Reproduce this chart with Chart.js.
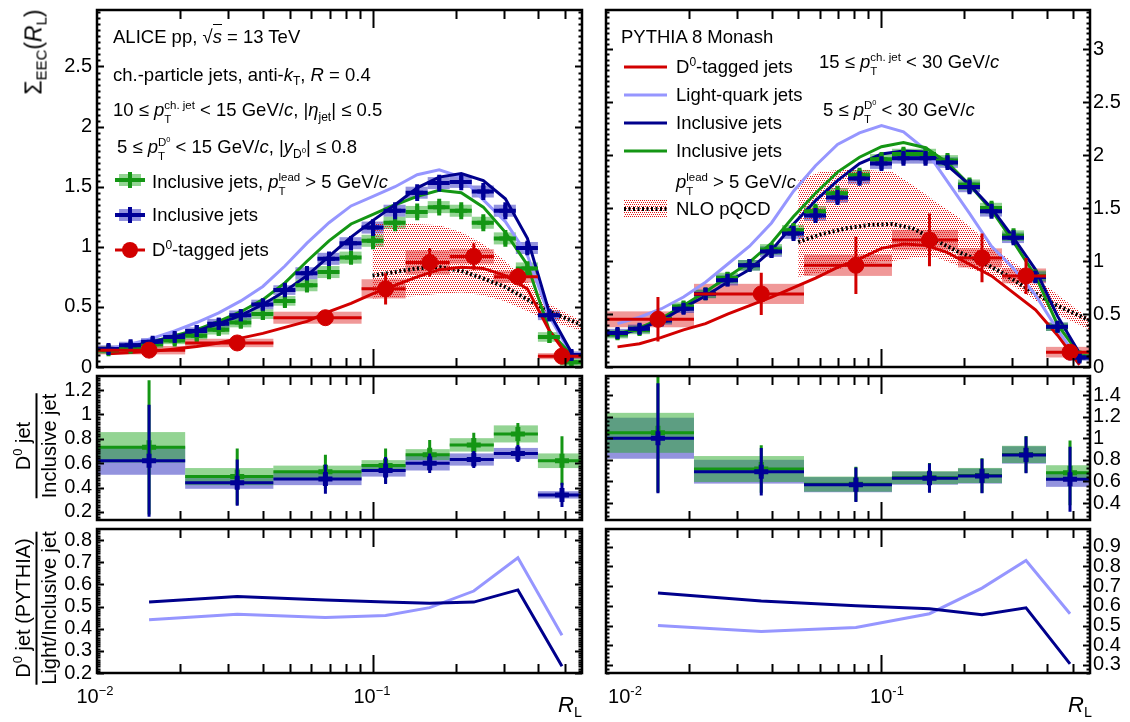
<!DOCTYPE html>
<html>
<head>
<meta charset="utf-8">
<script src="https://cdn.jsdelivr.net/npm/chart.js@4.4.1/dist/chart.umd.min.js"></script>
<style>
  body { margin: 0; background: #fff; }
  #wrap { position: relative; width: 1130px; height: 722px; overflow: hidden; background: #fff;
          font-family: "Liberation Sans", Arial, Helvetica, sans-serif; color: #000; }
  #wrap canvas { position: absolute; left: 0; top: 0; }
  .t { position: absolute; white-space: nowrap; font-size: 18.5px; line-height: 1; }
  .t sub, .rot sub, .frac sub { font-size: 0.65em; vertical-align: -0.35em; line-height: 0; }
  .t sup, .rot sup, .frac sup, .xl sup { font-size: 0.65em; vertical-align: 0.6em; line-height: 0; }
  .ss { display: inline-flex; flex-direction: column; font-size: 0.62em; line-height: 1.2; vertical-align: 0.65em; }
  .ov { border-top: 1.5px solid #000; padding-top: 1px; }
  .rot { position: absolute; white-space: nowrap; transform: translate(-50%, -50%) rotate(-90deg); }
  .frac { display: flex; flex-direction: column; align-items: center; font-size: 20px; line-height: 1.05; }
  .frac .bar { align-self: stretch; border-top: 2px solid #000; margin: 2px 0 1px; }
  .xl { position: absolute; top: 686px; font-size: 20px; line-height: 1; transform: translateX(-50%); white-space: nowrap; }
</style>
</head>
<body>
<div id="wrap">
  <canvas id="cLT" width="1130" height="722"></canvas>
  <canvas id="cLM" width="1130" height="722"></canvas>
  <canvas id="cLB" width="1130" height="722"></canvas>
  <canvas id="cRT" width="1130" height="722"></canvas>
  <canvas id="cRM" width="1130" height="722"></canvas>
  <canvas id="cRB" width="1130" height="722"></canvas>

  <!-- left top annotations -->
  <div class="t" style="left:113px;top:28px">ALICE pp, √<span class="ov"><i>s</i></span> = 13 TeV</div>
  <div class="t" style="left:113px;top:66px">ch.-particle jets, anti-<i>k</i><sub>T</sub>, <i>R</i> = 0.4</div>
  <div class="t" style="left:113px;top:99px">10 ≤ <i>p</i><span class="ss"><span>ch. jet</span><span>T</span></span> &lt; 15 GeV/<i>c</i>, |<i>η</i><sub>jet</sub>| ≤ 0.5</div>
  <div class="t" style="left:117px;top:136px">5 ≤ <i>p</i><span class="ss"><span>D<sup>0</sup></span><span>T</span></span> &lt; 15 GeV/<i>c</i>, |<i>y</i><sub>D<sup>0</sup></sub>| ≤ 0.8</div>
  <div class="t" style="left:152px;top:171px">Inclusive jets, <i>p</i><span class="ss"><span>lead</span><span>T</span></span> &gt; 5 GeV/<i>c</i></div>
  <div class="t" style="left:152px;top:206px">Inclusive jets</div>
  <div class="t" style="left:152px;top:241px">D<sup>0</sup>-tagged jets</div>

  <!-- right top annotations -->
  <div class="t" style="left:621px;top:28px">PYTHIA 8 Monash</div>
  <div class="t" style="left:676px;top:58px">D<sup>0</sup>-tagged jets</div>
  <div class="t" style="left:676px;top:86px">Light-quark jets</div>
  <div class="t" style="left:676px;top:114px">Inclusive jets</div>
  <div class="t" style="left:676px;top:142px">Inclusive jets</div>
  <div class="t" style="left:676px;top:171px"><i>p</i><span class="ss"><span>lead</span><span>T</span></span> &gt; 5 GeV/<i>c</i></div>
  <div class="t" style="left:676px;top:200px">NLO pQCD</div>
  <div class="t" style="left:819px;top:51px">15 ≤ <i>p</i><span class="ss"><span>ch. jet</span><span>T</span></span> &lt; 30 GeV/<i>c</i></div>
  <div class="t" style="left:823px;top:99px">5 ≤ <i>p</i><span class="ss"><span>D<sup>0</sup></span><span>T</span></span> &lt; 30 GeV/<i>c</i></div>

  <!-- axis titles -->
  <div class="rot" style="left:34px;top:52px;font-size:23px">Σ<sub>EEC</sub>(<i>R</i><sub>L</sub>)</div>
  <div class="rot frac" style="left:36px;top:446px"><div>D<sup>0</sup> jet</div><div class="bar"></div><div>Inclusive jet</div></div>
  <div class="rot frac" style="left:36px;top:608px"><div>D<sup>0</sup> jet (PYTHIA)</div><div class="bar"></div><div>Light/Inclusive jet</div></div>

  <div class="xl" style="left:95px">10<sup>−2</sup></div>
  <div class="xl" style="left:372px">10<sup>−1</sup></div>
  <div class="xl" style="left:625px">10<sup>-2</sup></div>
  <div class="xl" style="left:887px">10<sup>-1</sup></div>
  <div class="t" style="left:558px;top:694px;font-size:22px"><i>R</i><sub>L</sub></div>
  <div class="t" style="left:1068px;top:694px;font-size:22px"><i>R</i><sub>L</sub></div>
</div>

<script>
// ---- R_L binning ----
const xMin = 0.01, xMax = 0.5754;
const fineEdges = [0.01, 0.01202, 0.01445, 0.01738, 0.02089, 0.02512, 0.0302, 0.03631, 0.04365, 0.05248, 0.0631,
  0.07586, 0.0912, 0.1096, 0.1318, 0.1585, 0.1905, 0.2291, 0.2754, 0.3311, 0.3981, 0.4786, 0.5754];
const fineCenters = [0.01101, 0.01324, 0.01592, 0.01914, 0.02301, 0.02766, 0.03326, 0.03998, 0.04807, 0.05779, 0.06948,
  0.08353, 0.1004, 0.1207, 0.1452, 0.1745, 0.2098, 0.2523, 0.3033, 0.3646, 0.4384, 0.527];
const d0EdgesL = [0.01, 0.02089, 0.04365, 0.0912, 0.1318, 0.1905, 0.2754, 0.3981, 0.5754];
const d0CentersL = [0.01545, 0.03227, 0.06743, 0.1115, 0.16115, 0.23295, 0.33675, 0.48675];
const d0EdgesR = [0.01, 0.02089, 0.05248, 0.1096, 0.1905, 0.2754, 0.3981, 0.5754];
const d0CentersR = [0.01545, 0.03669, 0.08104, 0.15005, 0.23295, 0.33675, 0.48675];

// ---- left top: 10-15 GeV/c data ----
const inclL     = [0.15, 0.18, 0.21, 0.25, 0.30, 0.36, 0.43, 0.52, 0.64, 0.78, 0.90, 1.03, 1.16, 1.30, 1.45, 1.53, 1.54, 1.46, 1.30, 0.99, 0.43, 0.10];
const inclStatL = [0.04, 0.04, 0.04, 0.04, 0.05, 0.05, 0.05, 0.05, 0.06, 0.06, 0.06, 0.06, 0.07, 0.07, 0.07, 0.07, 0.07, 0.07, 0.07, 0.06, 0.05, 0.04];
const inclSysL  = [0.03, 0.03, 0.03, 0.03, 0.03, 0.04, 0.04, 0.04, 0.04, 0.05, 0.05, 0.05, 0.05, 0.05, 0.05, 0.05, 0.05, 0.05, 0.05, 0.05, 0.04, 0.03];
const leadL     = [0.14, 0.16, 0.19, 0.22, 0.26, 0.31, 0.37, 0.44, 0.55, 0.68, 0.79, 0.91, 1.05, 1.20, 1.29, 1.33, 1.30, 1.20, 1.07, 0.82, 0.25, 0.04];
const leadStatL = [0.04, 0.04, 0.04, 0.04, 0.05, 0.05, 0.05, 0.05, 0.06, 0.06, 0.06, 0.06, 0.07, 0.07, 0.07, 0.07, 0.07, 0.07, 0.07, 0.06, 0.05, 0.04];
const leadSysL  = [0.03, 0.03, 0.03, 0.03, 0.03, 0.04, 0.04, 0.04, 0.04, 0.05, 0.05, 0.05, 0.05, 0.05, 0.05, 0.05, 0.05, 0.05, 0.05, 0.05, 0.04, 0.03];
const d0L       = [0.14, 0.20, 0.41, 0.65, 0.87, 0.92, 0.75, 0.09];
const d0StatL   = [0.05, 0.05, 0.06, 0.13, 0.12, 0.11, 0.07, 0.03];
const d0SysL    = [0.035, 0.035, 0.05, 0.08, 0.10, 0.06, 0.05, 0.025];
const pyInclL   = [0.14, 0.17, 0.21, 0.25, 0.30, 0.36, 0.43, 0.52, 0.63, 0.76, 0.92, 1.08, 1.22, 1.35, 1.49, 1.58, 1.61, 1.55, 1.40, 1.07, 0.45, 0.12];
const pyLeadL   = [0.14, 0.17, 0.21, 0.26, 0.31, 0.38, 0.46, 0.56, 0.70, 0.88, 1.05, 1.19, 1.27, 1.35, 1.42, 1.47, 1.45, 1.33, 1.12, 0.85, 0.30, 0.10];
const pyLightL  = [0.15, 0.19, 0.24, 0.30, 0.37, 0.45, 0.55, 0.67, 0.84, 1.03, 1.20, 1.34, 1.42, 1.50, 1.60, 1.64, 1.58, 1.39, 1.21, 0.93, 0.42, 0.10];
const pyD0L     = [0.11, 0.12, 0.13, 0.15, 0.17, 0.20, 0.24, 0.28, 0.33, 0.38, 0.46, 0.53, 0.61, 0.68, 0.75, 0.81, 0.83, 0.82, 0.76, 0.65, 0.30, 0.05];
const nloXL     = [0.1, 0.12, 0.145, 0.175, 0.21, 0.25, 0.3, 0.36, 0.44, 0.5754];
const nloHiL    = [1.20, 1.20, 1.19, 1.18, 1.12, 1.03, 0.89, 0.72, 0.52, 0.38];
const nloLoL    = [0.57, 0.58, 0.59, 0.61, 0.62, 0.60, 0.55, 0.47, 0.38, 0.30];
const nloMidL   = [0.76, 0.79, 0.82, 0.83, 0.80, 0.74, 0.67, 0.57, 0.46, 0.35];

// ---- right top: 15-30 GeV/c data ----
const inclR     = [0.32, 0.36, 0.44, 0.55, 0.69, 0.82, 0.96, 1.09, 1.26, 1.43, 1.60, 1.78, 1.92, 1.97, 1.97, 1.93, 1.70, 1.47, 1.22, 0.85, 0.38, 0.09];
const inclStatR = [0.05, 0.05, 0.05, 0.05, 0.06, 0.06, 0.06, 0.06, 0.07, 0.07, 0.07, 0.07, 0.07, 0.07, 0.07, 0.07, 0.07, 0.07, 0.07, 0.06, 0.05, 0.04];
const inclSysR  = [0.04, 0.04, 0.04, 0.04, 0.04, 0.05, 0.05, 0.05, 0.05, 0.05, 0.05, 0.05, 0.05, 0.05, 0.05, 0.05, 0.05, 0.05, 0.05, 0.05, 0.04, 0.03];
const leadR     = [0.31, 0.35, 0.45, 0.57, 0.69, 0.84, 0.96, 1.11, 1.29, 1.47, 1.64, 1.81, 1.96, 2.01, 2.01, 1.95, 1.72, 1.50, 1.24, 0.86, 0.38, 0.10];
const leadStatR = [0.05, 0.05, 0.05, 0.05, 0.06, 0.06, 0.06, 0.06, 0.07, 0.07, 0.07, 0.07, 0.07, 0.07, 0.07, 0.07, 0.07, 0.07, 0.07, 0.06, 0.05, 0.04];
const leadSysR  = [0.04, 0.04, 0.04, 0.04, 0.04, 0.05, 0.05, 0.05, 0.05, 0.05, 0.05, 0.05, 0.05, 0.05, 0.05, 0.05, 0.05, 0.05, 0.05, 0.05, 0.04, 0.03];
const d0R       = [0.45, 0.69, 0.96, 1.20, 1.03, 0.86, 0.14];
const d0StatR   = [0.21, 0.20, 0.27, 0.25, 0.23, 0.17, 0.05];
const d0SysR    = [0.075, 0.095, 0.10, 0.095, 0.09, 0.07, 0.05];
const pyInclR   = [0.30, 0.36, 0.44, 0.56, 0.67, 0.80, 0.92, 1.10, 1.35, 1.57, 1.76, 1.92, 2.01, 2.04, 2.03, 1.90, 1.72, 1.50, 1.22, 0.92, 0.48, 0.13];
const pyLeadR   = [0.31, 0.37, 0.46, 0.58, 0.71, 0.85, 0.99, 1.17, 1.42, 1.64, 1.84, 1.98, 2.08, 2.12, 2.07, 1.93, 1.72, 1.48, 1.18, 0.86, 0.40, 0.12];
const pyLightR  = [0.41, 0.47, 0.55, 0.66, 0.80, 0.97, 1.14, 1.36, 1.66, 1.90, 2.10, 2.21, 2.28, 2.22, 2.05, 1.75, 1.45, 1.14, 0.93, 0.68, 0.35, 0.06];
const pyD0R     = [0.19, 0.22, 0.28, 0.35, 0.41, 0.50, 0.58, 0.66, 0.75, 0.84, 0.94, 1.02, 1.12, 1.16, 1.15, 1.08, 0.97, 0.86, 0.70, 0.54, 0.30, 0.02];
const nloXR     = [0.05, 0.06, 0.075, 0.09, 0.11, 0.13, 0.16, 0.19, 0.23, 0.28, 0.34, 0.42, 0.5754];
const nloHiR    = [1.76, 1.84, 1.87, 1.86, 1.84, 1.72, 1.55, 1.42, 1.24, 1.05, 0.90, 0.72, 0.45];
const nloLoR    = [0.85, 0.89, 0.94, 0.98, 1.00, 1.03, 1.03, 0.96, 0.90, 0.82, 0.68, 0.52, 0.35];
const nloMidR   = [1.18, 1.25, 1.31, 1.34, 1.35, 1.31, 1.19, 1.09, 1.00, 0.88, 0.74, 0.60, 0.44];

// ---- middle: D0 jet / inclusive jet ----
const rLeadL     = [0.73, 0.49, 0.53, 0.58, 0.67, 0.75, 0.84, 0.62];
const rLeadStatL = [0.55, 0.23, 0.14, 0.14, 0.12, 0.10, 0.09, 0.20];
const rLeadSysL  = [0.125, 0.07, 0.05, 0.045, 0.045, 0.055, 0.07, 0.06];
const rInclL     = [0.62, 0.44, 0.47, 0.54, 0.60, 0.63, 0.68, 0.34];
const rInclStatL = [0.46, 0.19, 0.12, 0.11, 0.08, 0.07, 0.07, 0.10];
const rInclSysL  = [0.115, 0.05, 0.05, 0.05, 0.06, 0.05, 0.045, 0.03];
const rLeadR     = [1.05, 0.715, 0.575, 0.635, 0.655, 0.85, 0.68];
const rLeadStatR = [0.55, 0.22, 0.16, 0.135, 0.16, 0.17, 0.30];
const rLeadSysR  = [0.185, 0.12, 0.07, 0.06, 0.07, 0.08, 0.07];
const rInclR     = [1.0, 0.69, 0.57, 0.63, 0.65, 0.845, 0.62];
const rInclStatR = [0.51, 0.22, 0.16, 0.135, 0.16, 0.17, 0.30];
const rInclSysR  = [0.19, 0.11, 0.07, 0.06, 0.07, 0.08, 0.07];

// ---- bottom: PYTHIA D0 jet / light, inclusive ----
const pyRatioInclL  = [0.52, 0.545, 0.53, 0.52, 0.515, 0.52, 0.575, 0.23];
const pyRatioLightL = [0.44, 0.465, 0.45, 0.46, 0.495, 0.57, 0.72, 0.37];
const pyRatioInclR  = [0.665, 0.625, 0.60, 0.585, 0.555, 0.59, 0.305];
const pyRatioLightR = [0.50, 0.47, 0.49, 0.56, 0.69, 0.83, 0.56];

// colours
const GREEN = "rgb(20,150,20)", GREEN_BOX = "rgba(40,170,40,0.5)";
const BLUE = "rgb(0,0,150)", BLUE_BOX = "rgba(40,40,190,0.5)";
const RED = "rgb(210,0,0)", RED_BOX = "rgba(225,50,50,0.5)";
const LIGHT = "rgb(150,150,255)", NAVY = "rgb(0,0,140)";
const FONT = "'Liberation Sans', Arial, Helvetica, sans-serif";

// red dotted fill used for the NLO band
function dotPattern() {
  const c = document.createElement("canvas");
  c.width = 4; c.height = 4;
  const g = c.getContext("2d");
  g.fillStyle = "rgb(230,20,20)";
  [[0,0],[2,0],[1,2],[3,2]].forEach(p => g.fillRect(p[0], p[1], 1, 1));
  return document.createElement("canvas").getContext("2d").createPattern(c, "repeat");
}
const HATCH = dotPattern();

const pts = (xs, ys) => xs.map((x, i) => ({x: x, y: ys[i]}));

function dataSet(xs, ys, edges, stat, sys, color, box, style) {
  return {
    data: pts(xs, ys), edges: edges, stat: stat, sys: sys, boxColor: box, barWidth: style.bar,
    borderColor: color, backgroundColor: color, showLine: false,
    pointStyle: style.point, pointRadius: style.r, pointBorderWidth: style.bw,
    pointBackgroundColor: color, pointBorderColor: color
  };
}
function lineSet(xs, ys, color, width) {
  return {data: pts(xs, ys), borderColor: color, borderWidth: width || 3, pointRadius: 0, fill: false, tension: 0};
}
function nloSets(xs, hi, lo, mid) {
  return [
    {data: pts(xs, mid), borderColor: "#000", borderWidth: 4, borderDash: [2, 2.5], pointRadius: 0, fill: false},
    {data: pts(xs, hi), borderColor: "rgba(0,0,0,0)", borderWidth: 0, pointRadius: 0, backgroundColor: HATCH, fill: "+1"},
    {data: pts(xs, lo), borderColor: "rgba(0,0,0,0)", borderWidth: 0, pointRadius: 0, fill: false}
  ];
}

// ROOT-like frame: inward ticks on all sides, sys boxes, error bars, hand legend glyphs
const rootFrame = {
  id: "rootFrame",
  beforeDatasetsDraw(chart) {
    const {ctx, chartArea: a, scales: {x, y}} = chart;
    ctx.save();
    ctx.beginPath(); ctx.rect(a.left, a.top, a.width, a.height); ctx.clip();
    chart.data.datasets.forEach(ds => {
      if (!ds.sys) return;
      ctx.fillStyle = ds.boxColor;
      ds.data.forEach((p, i) => {
        const x0 = x.getPixelForValue(ds.edges[i]), x1 = x.getPixelForValue(ds.edges[i + 1]);
        const y0 = y.getPixelForValue(p.y + ds.sys[i]), y1 = y.getPixelForValue(p.y - ds.sys[i]);
        ctx.fillRect(x0, y0, x1 - x0, y1 - y0);
      });
    });
    ctx.restore();
  },
  beforeDatasetDraw(chart, args) {
    const ds = chart.data.datasets[args.index];
    if (!ds.stat) return;
    const {ctx, chartArea: a, scales: {x, y}} = chart;
    ctx.save();
    ctx.beginPath(); ctx.rect(a.left, a.top, a.width, a.height); ctx.clip();
    ctx.strokeStyle = ds.borderColor;
    ctx.lineWidth = ds.barWidth;
    ds.data.forEach((p, i) => {
      const py = y.getPixelForValue(p.y), px = x.getPixelForValue(p.x);
      ctx.beginPath();
      ctx.moveTo(x.getPixelForValue(ds.edges[i]), py);
      ctx.lineTo(x.getPixelForValue(ds.edges[i + 1]), py);
      ctx.moveTo(px, y.getPixelForValue(p.y - ds.stat[i]));
      ctx.lineTo(px, y.getPixelForValue(p.y + ds.stat[i]));
      ctx.stroke();
    });
    ctx.restore();
  },
  afterDraw(chart, args, opts) {
    const {ctx, chartArea: a, scales: {x, y}} = chart;
    ctx.save();
    ctx.strokeStyle = "#000";
    ctx.lineWidth = 2;
    // log ticks along top and bottom
    for (let e = -2; e <= -1; e++) {
      for (let m = 1; m <= 9; m++) {
        const v = m * Math.pow(10, e);
        if (v <= x.min * 1.001 || v >= x.max) continue;
        const px = Math.round(x.getPixelForValue(v)) + 0.5, len = m === 1 ? 18 : 9;
        ctx.beginPath();
        ctx.moveTo(px, a.bottom); ctx.lineTo(px, a.bottom - len);
        ctx.moveTo(px, a.top); ctx.lineTo(px, a.top + len);
        ctx.stroke();
      }
    }
    // linear ticks left and right
    const n = Math.round(opts.major / opts.minor);
    for (let k = Math.ceil(y.min / opts.minor - 1e-6); k * opts.minor <= y.max; k++) {
      const py = Math.round(y.getPixelForValue(k * opts.minor)) + 0.5;
      const len = k % n === 0 ? 7 : 3.5;
      ctx.beginPath();
      ctx.moveTo(a.left, py); ctx.lineTo(a.left + len, py);
      ctx.moveTo(a.right, py); ctx.lineTo(a.right - len, py);
      ctx.stroke();
    }
    ctx.lineWidth = 2.5;
    ctx.strokeRect(a.left, a.top, a.width, a.height);

    if (opts.legend === "left") {
      [[180, GREEN, GREEN_BOX], [215, BLUE, BLUE_BOX]].forEach(r => {
        ctx.fillStyle = r[2]; ctx.fillRect(119, r[0] - 6, 22, 12);
        ctx.strokeStyle = r[1]; ctx.lineWidth = 4;
        ctx.beginPath();
        ctx.moveTo(115, r[0]); ctx.lineTo(145, r[0]);
        ctx.moveTo(130, r[0] - 8); ctx.lineTo(130, r[0] + 8);
        ctx.stroke();
      });
      ctx.strokeStyle = RED; ctx.lineWidth = 3;
      ctx.beginPath(); ctx.moveTo(115, 250); ctx.lineTo(145, 250); ctx.stroke();
      ctx.fillStyle = RED;
      ctx.beginPath(); ctx.arc(130, 250, 8, 0, Math.PI * 2); ctx.fill();
    }
    if (opts.legend === "right") {
      [[67, RED], [95, LIGHT], [123, NAVY], [151, GREEN]].forEach(r => {
        ctx.strokeStyle = r[1]; ctx.lineWidth = 3;
        ctx.beginPath(); ctx.moveTo(624, r[0]); ctx.lineTo(667, r[0]); ctx.stroke();
      });
      ctx.fillStyle = HATCH; ctx.fillRect(624, 200, 43, 18);
      ctx.strokeStyle = "#000"; ctx.lineWidth = 4; ctx.setLineDash([2, 2.5]);
      ctx.beginPath(); ctx.moveTo(624, 209); ctx.lineTo(667, 209); ctx.stroke();
    }
    ctx.restore();
  }
};

function makeChart(id, p) {
  const left = p.side === "left";
  return new Chart(document.getElementById(id), {
    type: "line",
    data: {datasets: p.datasets},
    plugins: [rootFrame],
    options: {
      responsive: false, animation: false, events: [],
      layout: {padding: {left: left ? 0 : 606, right: left ? 1130 - 582 : 0, top: p.top, bottom: 722 - p.bottom}},
      plugins: {legend: {display: false}, tooltip: {enabled: false},
        rootFrame: {major: p.step, minor: p.minor, legend: p.legend}},
      scales: {
        x: {type: "logarithmic", min: xMin, max: xMax, display: false},
        y: {
          type: "linear", position: p.side, min: p.ymin, max: p.ymax,
          grid: {display: false, drawTicks: false}, border: {display: false},
          ticks: {stepSize: p.step, includeBounds: false, autoSkip: false, padding: left ? 5 : 3,
            color: "#000", font: {family: FONT, size: 20},
            callback: v => String(Math.round(v * 100) / 100)},
          afterFit: s => { s.width = left ? 97 : 40; s.paddingTop = 0; s.paddingBottom = 0; }
        }
      }
    }
  });
}

const crossTop = {point: "cross", r: 6, bw: 4, bar: 4};
const crossMid = {point: "cross", r: 7, bw: 5, bar: 3};
const circle = {point: "circle", r: 8, bw: 1, bar: 3};

makeChart("cLT", {side: "left", top: 9, bottom: 367, ymin: 0, ymax: 2.97, step: 0.5, minor: 0.05, legend: "left",
  datasets: [
    dataSet(d0CentersL, d0L, d0EdgesL, d0StatL, d0SysL, RED, RED_BOX, circle),
    dataSet(fineCenters, inclL, fineEdges, inclStatL, inclSysL, BLUE, BLUE_BOX, crossTop),
    dataSet(fineCenters, leadL, fineEdges, leadStatL, leadSysL, GREEN, GREEN_BOX, crossTop),
    lineSet(fineCenters, pyD0L, RED),
    lineSet(fineCenters, pyInclL, NAVY),
    lineSet(fineCenters, pyLeadL, GREEN),
    lineSet(fineCenters, pyLightL, LIGHT),
    ...nloSets(nloXL, nloHiL, nloLoL, nloMidL)
  ]});

makeChart("cRT", {side: "right", top: 9, bottom: 367, ymin: 0, ymax: 3.37, step: 0.5, minor: 0.05, legend: "right",
  datasets: [
    dataSet(d0CentersR, d0R, d0EdgesR, d0StatR, d0SysR, RED, RED_BOX, circle),
    dataSet(fineCenters, inclR, fineEdges, inclStatR, inclSysR, BLUE, BLUE_BOX, crossTop),
    dataSet(fineCenters, leadR, fineEdges, leadStatR, leadSysR, GREEN, GREEN_BOX, crossTop),
    lineSet(fineCenters, pyD0R, RED),
    lineSet(fineCenters, pyInclR, NAVY),
    lineSet(fineCenters, pyLeadR, GREEN),
    lineSet(fineCenters, pyLightR, LIGHT),
    ...nloSets(nloXR, nloHiR, nloLoR, nloMidR)
  ]});

makeChart("cLM", {side: "left", top: 376, bottom: 520, ymin: 0.134, ymax: 1.315, step: 0.2, minor: 0.02,
  datasets: [
    dataSet(d0CentersL, rInclL, d0EdgesL, rInclStatL, rInclSysL, BLUE, BLUE_BOX, crossMid),
    dataSet(d0CentersL, rLeadL, d0EdgesL, rLeadStatL, rLeadSysL, GREEN, GREEN_BOX, crossMid)
  ]});

makeChart("cRM", {side: "right", top: 376, bottom: 520, ymin: 0.243, ymax: 1.576, step: 0.2, minor: 0.04,
  datasets: [
    dataSet(d0CentersR, rInclR, d0EdgesR, rInclStatR, rInclSysR, BLUE, BLUE_BOX, crossMid),
    dataSet(d0CentersR, rLeadR, d0EdgesR, rLeadStatR, rLeadSysR, GREEN, GREEN_BOX, crossMid)
  ]});

makeChart("cLB", {side: "left", top: 529, bottom: 673, ymin: 0.2, ymax: 0.85, step: 0.1, minor: 0.01,
  datasets: [lineSet(d0CentersL, pyRatioInclL, NAVY), lineSet(d0CentersL, pyRatioLightL, LIGHT)]});

makeChart("cRB", {side: "right", top: 529, bottom: 673, ymin: 0.259, ymax: 0.99, step: 0.1, minor: 0.02,
  datasets: [lineSet(d0CentersR, pyRatioInclR, NAVY), lineSet(d0CentersR, pyRatioLightR, LIGHT)]});
</script>
</body>
</html>
